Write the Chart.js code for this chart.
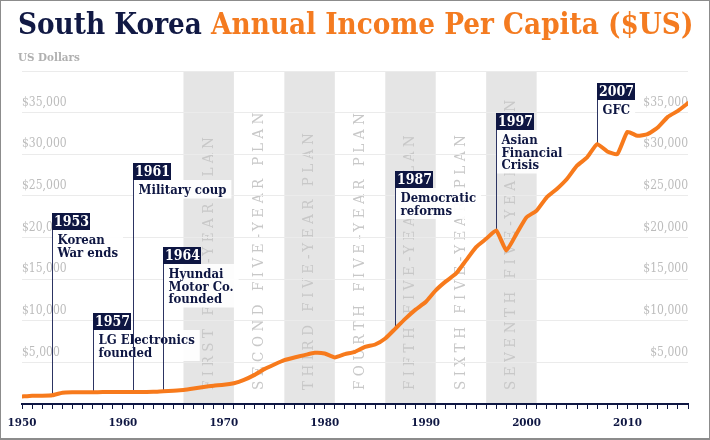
<!DOCTYPE html>
<html>
<head>
<meta charset="utf-8">
<script src="https://cdn.jsdelivr.net/npm/chart.js@4.4.1/dist/chart.umd.min.js"></script>
<style>
  html, body { margin: 0; padding: 0; background: #fff; }
  #wrap { position: relative; width: 710px; height: 440px; overflow: hidden; }
  #frame { position: absolute; left: 0; top: 0; width: 710px; height: 440px; box-sizing: border-box;
           border: 1px solid #8c8c8c; border-bottom-width: 2px; pointer-events: none; }
  #title { position: absolute; left: 18px; top: 6px; white-space: nowrap;
           font: bold 29.3px 'DejaVu Serif Condensed', 'DejaVu Serif', serif; color: #111944; }
  #title span { color: #f47b20; }
  #unit { position: absolute; left: 18px; top: 50px; font: bold 11.5px 'DejaVu Serif Condensed', 'DejaVu Serif', serif; color: #b0b0b0; }
  canvas { position: absolute; left: 0; top: 0; }
</style>
</head>
<body>
<div id="wrap">
  <canvas id="incomeChart" width="710" height="440"></canvas>
  <div id="title">South Korea <span>Annual Income Per Capita ($US)</span></div>
  <div id="unit">US Dollars</div>
  <div id="frame"></div>
</div>
<script>
// data
const years = [1950, 1951, 1952, 1953, 1954, 1955, 1956, 1957, 1958, 1959,
               1960, 1961, 1962, 1963, 1964, 1965, 1966, 1967, 1968, 1969,
               1970, 1971, 1972, 1973, 1974, 1975, 1976, 1977, 1978, 1979,
               1980, 1981, 1982, 1983, 1984, 1985, 1986, 1987, 1988, 1989,
               1990, 1991, 1992, 1993, 1994, 1995, 1996, 1997, 1998, 1999,
               2000, 2001, 2002, 2003, 2004, 2005, 2006, 2007, 2008, 2009,
               2010, 2011, 2012, 2013, 2014, 2015, 2016];
const income = [900, 1000, 1000, 1050, 1350, 1400, 1410, 1420, 1430, 1430,
                1430, 1440, 1440, 1460, 1540, 1600, 1680, 1850, 2050, 2200,
                2300, 2500, 2900, 3470, 4190, 4750, 5270, 5590, 5870, 6150,
                6070, 5590, 5990, 6270, 6870, 7150, 7870, 9060, 10260, 11340,
                12250, 13650, 14730, 15650, 17250, 18840, 19840, 20840, 18440, 20440,
                22430, 23230, 24830, 25830, 27030, 28620, 29620, 31220, 30340, 30020,
                32690, 32210, 32420, 33210, 34490, 35210, 36130];

const xTickYears = [1950, 1960, 1970, 1980, 1990, 2000, 2010];
const yTickValues = [5000, 10000, 15000, 20000, 25000, 30000, 35000];

const planNames = ['FIRST FIVE-YEAR PLAN', 'SECOND FIVE-YEAR PLAN', 'THIRD FIVE-YEAR PLAN',
                   'FOURTH FIVE-YEAR PLAN', 'FIFTH FIVE-YEAR PLAN', 'SIXTH FIVE-YEAR PLAN',
                   'SEVENTH FIVE-YEAR PLAN'];
const planStart = [1966, 1971, 1976, 1981, 1986, 1991, 1996];
const planEnd = [1971, 1976, 1981, 1986, 1991, 1996, 2001];
const planShaded = [true, false, true, false, true, false, true];

const eventYears = [1953, 1957, 1961, 1964, 1987, 1997, 2007];
const eventTexts = [['Korean', 'War ends'], ['LG Electronics', 'founded'], ['Military coup'],
                    ['Hyundai', 'Motor Co.', 'founded'], ['Democratic', 'reforms'],
                    ['Asian', 'Financial', 'Crisis'], ['GFC']];

// layout only: pixel top of each event label
const eventBoxTop = [213, 313, 163, 247, 171, 113, 83];

const navy = '#0e1642';
const serif = "'DejaVu Serif Condensed', 'DejaVu Serif', serif";

const backdrop = {
    id: 'backdrop',
    beforeDraw(chart) {
        const {ctx, chartArea: a, scales: {x}} = chart;
        ctx.save();
        planStart.forEach((s, i) => {
            if (!planShaded[i]) return;
            const x0 = x.getPixelForValue(s), x1 = x.getPixelForValue(planEnd[i]);
            ctx.fillStyle = '#e5e5e5';
            ctx.fillRect(x0, a.top, x1 - x0, a.bottom - a.top);
        });
        ctx.fillStyle = '#c8c8c8';
        ctx.font = '15px ' + serif;
        ctx.letterSpacing = '4.5px';
        ctx.textBaseline = 'middle';
        ctx.textAlign = 'left';
        planStart.forEach((s, i) => {
            const cx = x.getPixelForValue((s + planEnd[i]) / 2);
            ctx.save();
            ctx.translate(cx, a.bottom - 14);
            ctx.rotate(-Math.PI / 2);
            ctx.fillText(planNames[i], 0, 0);
            ctx.restore();
        });
        ctx.restore();
    },
    beforeDatasetsDraw(chart) {
        const {ctx, scales: {x, y}} = chart;
        ctx.save();
        eventYears.forEach((yr, i) => {
            const px = Math.round(x.getPixelForValue(yr)) + 0.5;
            const top = eventBoxTop[i];
            const py = y.getPixelForValue(income[years.indexOf(yr)]);
            const lines = eventTexts[i];
            const boxH = 17, lh = 12.5;
            ctx.font = 'bold 13px ' + serif;
            const w = Math.max(...lines.map(l => ctx.measureText(l).width)) + 10;
            ctx.fillStyle = 'rgba(255,255,255,0.93)';
            ctx.fillRect(px, top + boxH, w, lines.length * lh + 6);

            ctx.strokeStyle = '#2c3462';
            ctx.lineWidth = 1;
            ctx.beginPath();
            ctx.moveTo(px, top);
            ctx.lineTo(px, py);
            ctx.stroke();

            ctx.fillStyle = navy;
            ctx.fillRect(px - 0.5, top, 38, boxH);
            ctx.fillStyle = '#fff';
            ctx.font = 'bold 14px ' + serif;
            ctx.textAlign = 'center';
            ctx.textBaseline = 'middle';
            ctx.fillText(String(yr), px + 19, top + boxH / 2 + 1);

            ctx.fillStyle = navy;
            ctx.font = 'bold 13px ' + serif;
            ctx.textAlign = 'left';
            ctx.textBaseline = 'alphabetic';
            lines.forEach((l, j) => ctx.fillText(l, px + 5, top + boxH + 14 + j * lh));
        });
        ctx.restore();
    }
};

const yTickCallback = (v) => yTickValues.includes(v) ? '$' + v.toLocaleString('en-US') : '';

new Chart(document.getElementById('incomeChart'), {
    type: 'line',
    data: {
        datasets: [{
            data: years.map((yr, i) => ({x: yr, y: income[i]})),
            borderColor: '#f77a1c',
            borderWidth: 4,
            pointRadius: 0,
            tension: 0.15,
            borderCapStyle: 'round',
            borderJoinStyle: 'round'
        }]
    },
    options: {
        responsive: false,
        animation: false,
        layout: { padding: { left: 22, right: 22, top: 71, bottom: 0 } },
        plugins: { legend: { display: false }, tooltip: { enabled: false } },
        scales: {
            x: {
                type: 'linear',
                min: 1950,
                max: 2016,
                afterFit: (scale) => { scale.height = 36; },
                grid: { drawOnChartArea: false, drawTicks: true, tickLength: 5, color: navy, lineWidth: 1 },
                border: { color: navy, width: 2 },
                ticks: {
                    stepSize: 1, autoSkip: false, maxRotation: 0, padding: 7,
                    color: navy, font: { family: serif, size: 11.5, weight: 'bold' },
                    callback: (v) => xTickYears.includes(v) ? String(v) : ''
                }
            },
            y: {
                position: 'left',
                min: 0,
                max: 40000,
                grid: { color: '#ebebeb', drawTicks: false },
                border: { display: false },
                ticks: {
                    stepSize: 5000, mirror: true, padding: 0, labelOffset: -10,
                    color: '#bcbcbc', font: { family: serif, size: 12 },
                    callback: yTickCallback
                }
            },
            y2: {
                position: 'right',
                min: 0,
                max: 40000,
                grid: { display: false, drawTicks: false },
                border: { display: false },
                ticks: {
                    stepSize: 5000, mirror: true, padding: 0, labelOffset: -10,
                    color: '#bcbcbc', font: { family: serif, size: 12 },
                    callback: yTickCallback
                }
            }
        }
    },
    plugins: [backdrop]
});
</script>
</body>
</html>
